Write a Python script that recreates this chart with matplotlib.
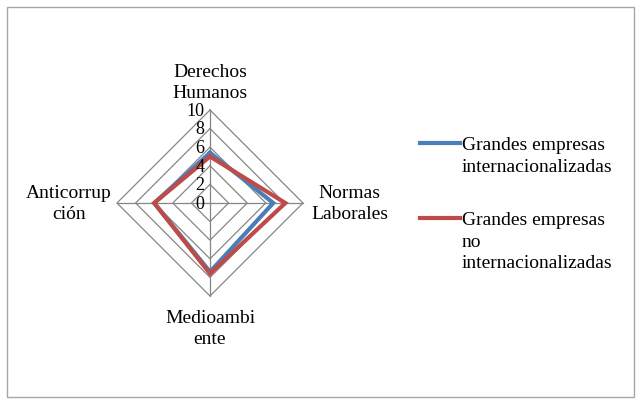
import numpy as np
import matplotlib
matplotlib.use("Agg")
import matplotlib.pyplot as plt
from matplotlib.lines import Line2D
from matplotlib.patches import Rectangle
from matplotlib.transforms import offset_copy

categories = ["Derechos\nHumanos", "Normas\nLaborales", "Medioambi\nente", "Anticorrup\nción"]
series_names = ["Grandes empresas\ninternacionalizadas", "Grandes empresas\nno\ninternacionalizadas"]
blue_vals = [5.4, 6.8, 7.4, 6.0]
red_vals = [5.0, 8.1, 7.6, 6.0]
tick_vals = [0, 2, 4, 6, 8, 10]
tick_labels = ["0", "2", "4", "6", "8", "10"]

colors = ["#4A7EBB", "#BE4B48"]
grid_color = "#868686"
font = "Liberation Serif"

W, H = 641, 404
fig = plt.figure(figsize=(W / 100, H / 100), dpi=100)
fig.patch.set_facecolor("white")

# outer border
fig.patches.append(Rectangle((7 / W, 7 / H), (634 - 7) / W, (397 - 7) / H,
                             transform=fig.transFigure, fill=False,
                             edgecolor="#a6a6a6", lw=1.0))

cx, cy, R = 210, 203, 93
ax = fig.add_axes([(cx - R) / W, (H - cy - R) / H, 2 * R / W, 2 * R / H], projection="polar")
ax.set_theta_zero_location("N")
ax.set_theta_direction(-1)
ax.set_ylim(0, 10)
ax.grid(False)
ax.spines["polar"].set_visible(False)
ax.set_xticks([])
ax.set_yticks([])
ax.patch.set_alpha(0)

n = len(categories)
angles = np.arange(n) * 2 * np.pi / n
closed = np.concatenate([angles, angles[:1]])

# polygon grid
for lv in tick_vals[1:]:
    ax.plot(closed, [lv] * (n + 1), color=grid_color, lw=0.9, zorder=1, clip_on=False)
for a in angles:
    ax.plot([a, a], [0, 10], color=grid_color, lw=0.9, zorder=1, clip_on=False)

# series
for vals, c in zip([blue_vals, red_vals], colors):
    v = list(vals) + [vals[0]]
    ax.plot(closed, v, color=c, lw=3.0, zorder=3, clip_on=False, solid_joinstyle="miter")

# tick labels
toff = offset_copy(ax.transData, fig=fig, x=-4, y=-1, units="points")
for tv, tl in zip(tick_vals, tick_labels):
    ax.text(0, tv, tl, transform=toff, ha="right", va="center",
            fontsize=13, family=font, color="black", zorder=4)

# category labels
offs = [(0, 6, "center", "bottom"), (6, -1, "left", "center"),
        (0, -10, "center", "top"), (-4, -1, "right", "center")]
for a, lab, (dx, dy, ha, va) in zip(angles, categories, offs):
    tr = offset_copy(ax.transData, fig=fig, x=dx, y=dy, units="points")
    ax.text(a, 10, lab, transform=tr, ha=ha, va=va, fontsize=14, family=font,
            linespacing=1.3, multialignment="center")

# legend (manual)
leg_y = [143, 218]
for name, c, y in zip(series_names, colors, leg_y):
    fig.add_artist(Line2D([420 / W, 460 / W], [(H - y) / H] * 2, color=c, lw=3.0,
                          transform=fig.transFigure))
    fig.text(462 / W, (H - y + 6) / H, name, ha="left", va="top", fontsize=14,
             family=font, linespacing=1.35)

fig.savefig("out.png", dpi=100, facecolor="white")
